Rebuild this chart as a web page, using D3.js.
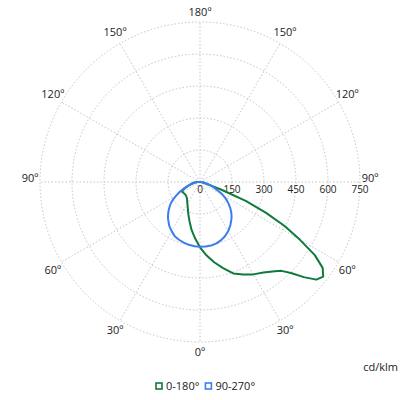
<!DOCTYPE html>
<html><head><meta charset="utf-8">
<script src="https://cdn.jsdelivr.net/npm/d3@7"></script>
<style>body{margin:0;background:#fff}svg{display:block;font-family:"Open Sans","Noto Sans",sans-serif}</style>
</head><body><div id="chart"></div>
<script>
// gamma angles (degrees from nadir)
const gammas = [0,5,10,15,20,25,30,35,40,42.5,45,47.5,50,52.5,55,57.5,60,62.5,65,67.5,70,72.5,75,80,85,90,95,100,180];
// C0 / C180 plane (green): right and left halves
const c0   = [306,345,382,418,456,478,500,518,546,565,603,660,712,728,702,638,540,447,342,232,110,45,24,12,6,3,1,0,0];
const c180 = [306,265,228,190,160,135,118,105,96,94,92,91,91,91,92,93,94,95,88,78,67,58,50,38,26,14,5,0,0];
// C90 / C270 plane (blue)
const c90  = [303,303,302,298,290,279,265,248,229,219,208,196,183,170,156,141,125,107,88,75,62,50,40,25,14,6,2,0,0];
const c270 = [303,302,299,294,288,280,266,251,232,222,211,200,188,176,163,147,130,115,100,85,70,57,45,28,16,7,2,0,0];
const ringTicks = [0,150,300,450,600,750];
const spokeAngles = [0,30,60,90,120,150,180,210,240,270,300,330];
const series = [
  {name:"0-180°", color:"#0f7a3c", right:c0, left:c180},
  {name:"90-270°", color:"#3b7cf5", right:c90, left:c270}
];

const W=400,H=400,cx=200,cy=182,R=160;
const svg=d3.select("#chart").append("svg").attr("width",W).attr("height",H);
const r=d3.scaleLinear().domain([0,750]).range([0,R]);
const g=svg.append("g").attr("transform",`translate(${cx},${cy})`);
const grid="#c4c4c4";

// rings
g.selectAll("circle.ring").data(ringTicks.slice(1)).join("circle")
  .attr("r",d=>r(d)).attr("fill","none").attr("stroke",grid).attr("stroke-width",1).attr("stroke-dasharray","1.5,2");
// spokes (d3 angle: 0 = up, clockwise; gamma 0 at bottom)
const toRad=gm=>Math.PI - gm*Math.PI/180;
g.selectAll("line.spoke").data(spokeAngles).join("line")
  .attr("x1",0).attr("y1",0)
  .attr("x2",d=>Math.sin(toRad(d))*R).attr("y2",d=>-Math.cos(toRad(d))*R)
  .attr("stroke",grid).attr("stroke-width",1).attr("stroke-dasharray","1.5,2");

// angle labels
const labelAngles=[0,30,60,90,120,150,180,-30,-60,-90,-120,-150];
g.selectAll("text.ang").data(labelAngles).join("text")
  .attr("x",d=>Math.sin(toRad(d))*170)
  .attr("y",d=>-Math.cos(toRad(d))*170)
  .attr("dy",d=>{const a=Math.abs(d); return a===90?"0":(a===60?"0.6em":(a===0?"0.35em":(a===30?"0.45em":(a===180?"0.35em":"0.1em"))));})
  .attr("text-anchor","middle").attr("font-size",11).attr("fill","#222")
  .text(d=>Math.abs(d)+"º");

// radial tick labels
g.selectAll("text.rt").data(ringTicks).join("text")
  .attr("x",d=>r(d)).attr("y",11).attr("text-anchor","middle")
  .attr("font-size",10).attr("fill","#222").text(d=>d);

// curves
const line=d3.lineRadial().angle(d=>d[0]).radius(d=>r(d[1])).curve(d3.curveLinearClosed);
series.forEach(s=>{
  const pts=[];
  for(let i=gammas.length-1;i>=0;i--) pts.push([toRad(-gammas[i]), s.left[i]]);
  for(let i=1;i<gammas.length;i++) pts.push([toRad(gammas[i]), s.right[i]]);
  g.append("path").attr("d",line(pts)).attr("fill","none").attr("stroke",s.color).attr("stroke-width",2).attr("stroke-linejoin","round");
});

// unit
svg.append("text").attr("x",398).attr("y",371).attr("text-anchor","end").attr("font-size",11).attr("fill","#222").text("cd/klm");

// legend
const lg=svg.append("g").attr("transform","translate(156,383)");
let x=0;
series.forEach(s=>{
  const it=lg.append("g").attr("transform",`translate(${x},0)`);
  it.append("rect").attr("x",0).attr("y",0).attr("width",6).attr("height",6).attr("fill","none").attr("stroke",s.color).attr("stroke-width",1.6);
  const t=it.append("text").attr("x",10).attr("y",7).attr("font-size",11).attr("fill","#222").text(s.name);
  x+=10+t.node().getComputedTextLength()+6;
});
</script></body></html>
